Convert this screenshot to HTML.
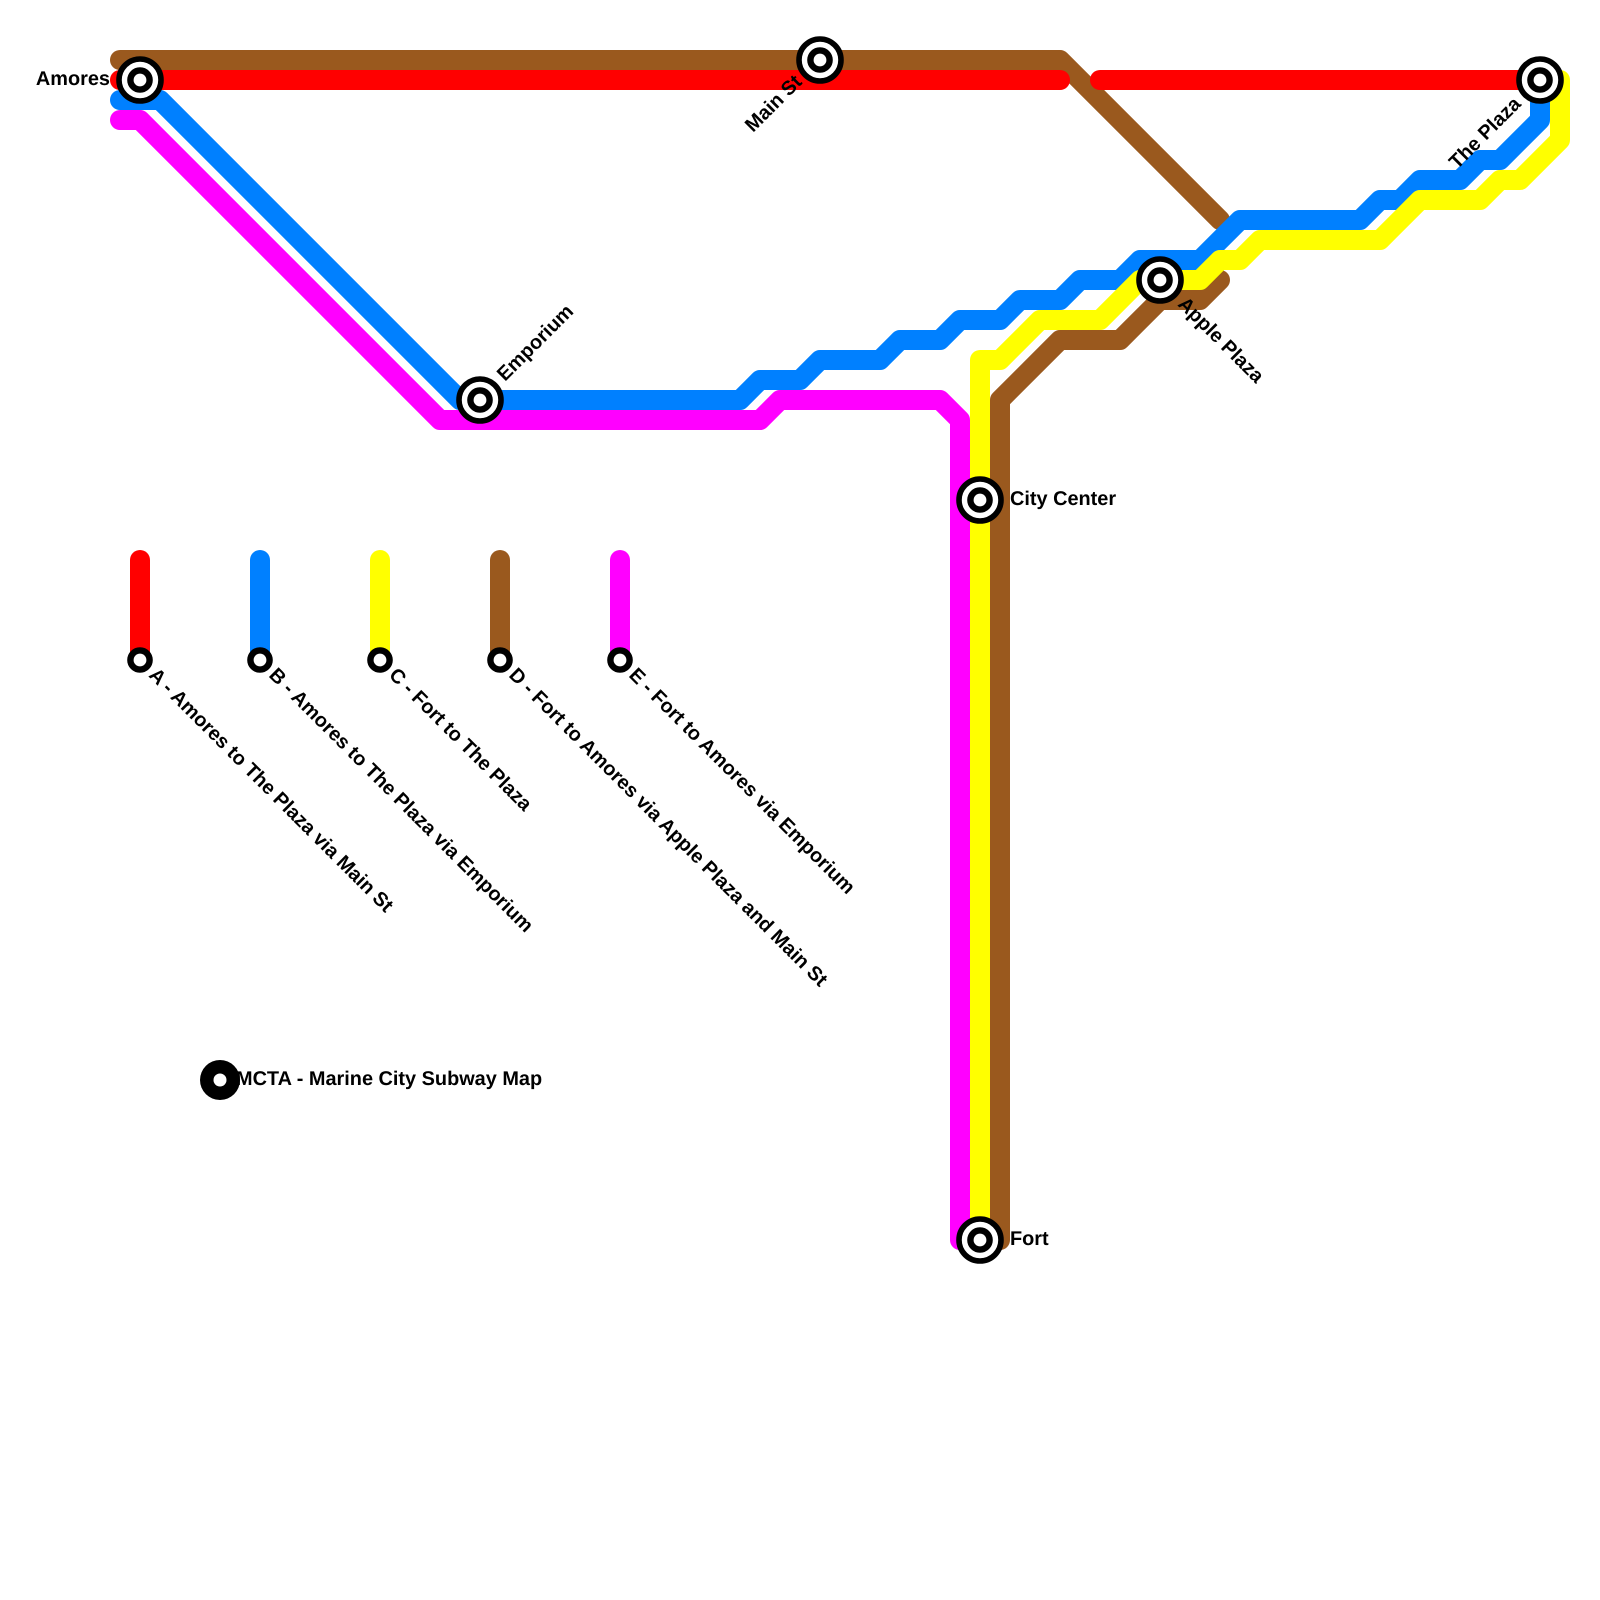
<!DOCTYPE html>
<html><head><meta charset="utf-8"><style>html,body{margin:0;padding:0;background:#fff}svg{display:block}text{font-family:"Liberation Sans",sans-serif;font-weight:bold;font-size:19.9px;fill:#000;text-rendering:geometricPrecision}</style></head><body>
<svg width="1600" height="1600" viewBox="0 0 1600 1600" xmlns="http://www.w3.org/2000/svg">
<rect width="1600" height="1600" fill="#fff"/>
<g fill="none" stroke-width="20" stroke-linecap="round" stroke-linejoin="round">
<path stroke="#9a591e" d="M120 60H1060L1220 220"/>
<path stroke="#9a591e" d="M1220 280L1200 300H1160L1120 340H1060L1000 400V1240"/>
<path stroke="#ff00ff" d="M120 120H140L440 420H760L780 400H940L960 420V1240"/>
<path stroke="#ff0000" d="M120 80H1060M1100 80H1540"/>
<path stroke="#0080ff" d="M120 100H160L460 400H740L760 380H800L820 360H880L900 340H940L960 320H1000L1020 300H1060L1080 280H1120L1140 260H1200L1240 220H1360L1380 200H1400L1420 180H1460L1480 160H1500L1540 120V80"/>
<path stroke="#ffff00" d="M980 1240V360H1000L1040 320H1100L1140 280H1200L1220 260H1240L1260 240H1380L1420 200H1480L1500 180H1520L1560 140V80"/>
<path stroke="#ff0000" d="M140 560V660"/>
<path stroke="#0080ff" d="M260 560V660"/>
<path stroke="#ffff00" d="M380 560V660"/>
<path stroke="#9a591e" d="M500 560V660"/>
<path stroke="#ff00ff" d="M620 560V660"/>
</g>
<g fill="#fff" stroke="#000">
<g stroke-width="5.6">
<circle cx="140" cy="80" r="21"/>
<circle cx="820" cy="60" r="21"/>
<circle cx="480" cy="400" r="21"/>
<circle cx="1160" cy="280" r="21"/>
<circle cx="1540" cy="80" r="21"/>
<circle cx="980" cy="500" r="21"/>
<circle cx="980" cy="1240" r="21"/>
</g>
<g stroke-width="6.4">
<circle cx="140" cy="80" r="9.6"/>
<circle cx="820" cy="60" r="9.6"/>
<circle cx="480" cy="400" r="9.6"/>
<circle cx="1160" cy="280" r="9.6"/>
<circle cx="1540" cy="80" r="9.6"/>
<circle cx="980" cy="500" r="9.6"/>
<circle cx="980" cy="1240" r="9.6"/>
<circle cx="140" cy="660" r="9.6"/>
<circle cx="260" cy="660" r="9.6"/>
<circle cx="380" cy="660" r="9.6"/>
<circle cx="500" cy="660" r="9.6"/>
<circle cx="620" cy="660" r="9.6"/>
</g>
</g>
<circle cx="220" cy="1080" r="20" fill="#000"/><circle cx="220" cy="1080" r="6.5" fill="#fff"/>
<text x="110" y="85" text-anchor="end">Amores</text>
<text x="1010" y="505">City Center</text>
<text x="1010" y="1245">Fort</text>
<text x="236" y="1085">MCTA - Marine City Subway Map</text>
<text transform="translate(505,382) rotate(-45)">Emporium</text>
<text transform="translate(803,83) rotate(-45)" text-anchor="end">Main St</text>
<text transform="translate(1522,105) rotate(-45)" text-anchor="end">The Plaza</text>
<text transform="translate(1177,305) rotate(45)">Apple Plaza</text>
<text transform="translate(148,676) rotate(45)">A - Amores to The Plaza via Main St</text>
<text transform="translate(268,676) rotate(45)">B - Amores to The Plaza via Emporium</text>
<text transform="translate(388,676) rotate(45)">C - Fort to The Plaza</text>
<text transform="translate(508,676) rotate(45)">D - Fort to Amores via Apple Plaza and Main St</text>
<text transform="translate(628,676) rotate(45)">E - Fort to Amores via Emporium</text>
</svg>
</body></html>
